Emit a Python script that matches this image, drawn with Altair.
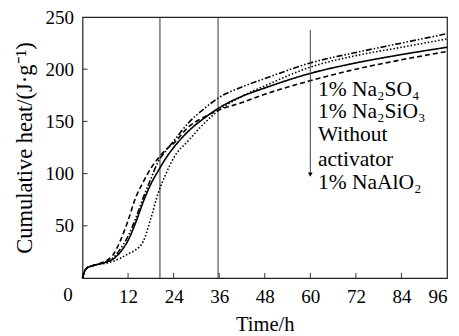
import altair as alt
import pandas as pd

FONT = "Liberation Serif"

times = [0, 0.5, 1, 2, 4, 6, 8, 10, 12, 14, 16, 18, 20, 22, 24, 28, 32, 36, 42, 48, 60, 72, 84, 96]
na2so4 = [0, 6, 9, 11, 13, 15, 19, 28, 40, 57, 77, 95, 112, 122, 131, 149, 162, 173, 183, 191, 206, 216, 225, 234]
na2sio3 = [0, 6, 9, 11, 13, 14, 16, 19, 23, 27, 35, 57, 82, 100, 115, 132, 148, 161, 174, 184, 202, 213, 221, 229]
without = [0, 6, 9, 11, 13, 15, 18, 25, 36, 53, 73, 90, 103, 115, 125, 141, 153, 163, 174, 182, 196, 206, 214, 221]
naalo2 = [0, 6, 9, 11, 13.5, 16, 22, 36, 55, 77, 92, 105, 115, 123, 129, 145, 154, 161, 168, 176, 189, 200, 209, 217]

series_names = ["1% Na2SO4", "1% Na2SiO3", "Without activator", "1% NaAlO2"]
series_vals = [na2so4, na2sio3, without, naalo2]

x_ticks = [12, 24, 36, 48, 60, 72, 84, 96]
y_ticks = [50, 100, 150, 200, 250]
vlines = [20.4, 35.7]
label_texts = ["1% Na\u2082SO\u2084", "1% Na\u2082SiO\u2083", "Without", "activator", "1% NaAlO\u2082"]
label_y = [180, 159, 137, 113, 91]
label_t = 62
arrow_t = 60
arrow_top = 237.5
arrow_bottom = 99

rows = []
for name, vals in zip(series_names, series_vals):
    for t, v in zip(times, vals):
        rows.append({"t": t, "v": v, "s": name})
df = pd.DataFrame(rows)

xs = alt.Scale(domain=[0, 96], nice=False, zero=False)
ys = alt.Scale(domain=[0, 250], nice=False)

lines = alt.Chart(df).mark_line(interpolate="monotone", strokeWidth=1.6, color="black").encode(
    x=alt.X("t:Q", scale=xs, title="Time/h",
            axis=alt.Axis(values=x_ticks, ticks=False, domain=False, grid=False,
                          labelFont=FONT, labelFontSize=19, labelColor="black", labelPadding=9,
                          titleFont=FONT, titleFontSize=20.5, titleFontWeight="normal",
                          titleColor="black", titlePadding=8)),
    y=alt.Y("v:Q", scale=ys, title="Cumulative heat/(J\u00b7g\u207b\u00b9)",
            axis=alt.Axis(values=y_ticks, ticks=False, domain=False, grid=False,
                          labelFont=FONT, labelFontSize=19, labelColor="black", labelPadding=9,
                          titleFont=FONT, titleFontSize=22.5, titleFontWeight="normal",
                          titleColor="black", titlePadding=9)),
    strokeDash=alt.StrokeDash("s:N", sort=series_names,
                              scale=alt.Scale(domain=series_names,
                                              range=[[6, 2, 1.5, 2, 1.5, 2], [1.5, 2], [1, 0], [5, 3]]),
                              legend=None),
)

vl_df = pd.DataFrame({"t": vlines})
vrules = alt.Chart(vl_df).mark_rule(color="#333333", strokeWidth=1).encode(
    x=alt.X("t:Q", scale=xs), y=alt.value(0), y2=alt.value(261))

xt_df = pd.DataFrame({"t": x_ticks[:-1]})
xticks = alt.Chart(xt_df).mark_rule(color="#333333", strokeWidth=1).encode(
    x=alt.X("t:Q", scale=xs), y=alt.value(261), y2=alt.value(256))

yt_df = pd.DataFrame({"v": y_ticks[:-1]})
yticks = alt.Chart(yt_df).mark_rule(color="#333333", strokeWidth=1).encode(
    y=alt.Y("v:Q", scale=ys), x=alt.value(0), x2=alt.value(5))

zero_df = pd.DataFrame({"t": [0], "v": [0], "lab": ["0"]})
zero = alt.Chart(zero_df).mark_text(font=FONT, fontSize=19, color="black", align="center",
                                    baseline="middle", dx=-14.5, dy=17).encode(
    x=alt.X("t:Q", scale=xs), y=alt.Y("v:Q", scale=ys), text="lab:N")

arr_df = pd.DataFrame({"t": [arrow_t], "v1": [arrow_top], "v2": [arrow_bottom]})
arrow = alt.Chart(arr_df).mark_rule(color="#444444", strokeWidth=1).encode(
    x=alt.X("t:Q", scale=xs), y=alt.Y("v1:Q", scale=ys), y2="v2:Q")
head_df = pd.DataFrame({"t": [arrow_t], "v": [arrow_bottom]})
head = alt.Chart(head_df).mark_point(shape="triangle-down", filled=True, color="black",
                                     size=22, opacity=1).encode(
    x=alt.X("t:Q", scale=xs), y=alt.Y("v:Q", scale=ys))

lab_df = pd.DataFrame({"t": [label_t] * len(label_texts), "v": label_y, "txt": label_texts})
labels = alt.Chart(lab_df).mark_text(font=FONT, fontSize=21.5, color="black", align="left",
                                     baseline="middle").encode(
    x=alt.X("t:Q", scale=xs), y=alt.Y("v:Q", scale=ys), text="txt:N")

chart = alt.layer(vrules, xticks, yticks, lines, arrow, head, labels, zero).properties(
    width=364.5, height=261,
    autosize=alt.AutoSizeParams(type="none"),
    padding={"left": 74.5, "top": 9, "right": 4, "bottom": 58},
).configure_view(stroke="#222222", strokeWidth=1.2)

chart.save("out.html", embed_options={"renderer": "svg", "actions": False})
